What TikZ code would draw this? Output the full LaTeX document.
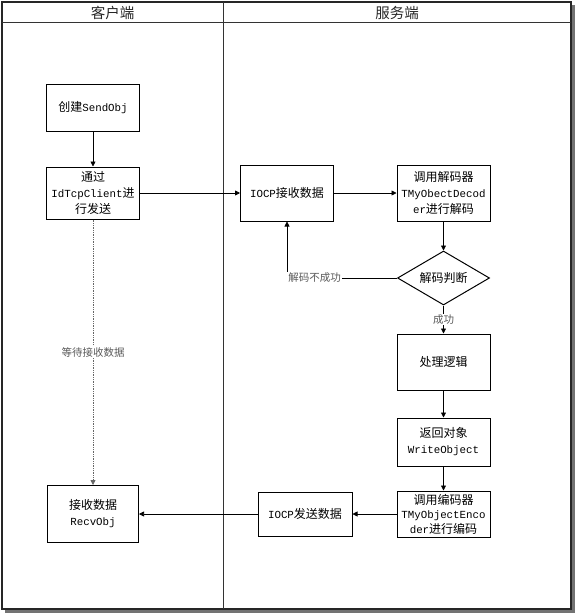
\documentclass[tikz,border=0pt]{standalone}
\usepackage{fontspec}
\setmainfont{Noto Sans CJK SC}
\setmonofont[Scale=0.9]{Liberation Mono}
\usetikzlibrary{arrows.meta,shapes.geometric}
\tikzset{
  procbox/.style={draw=black, line width=1pt, minimum width=93pt, inner sep=1pt, align=center, font=\fontsize{12}{16}\selectfont},
  judgebox/.style={draw=black, line width=1pt, diamond, aspect=1.7, minimum width=92pt, minimum height=54pt, inner sep=0pt, font=\fontsize{12}{16}\selectfont},
  flowarrow/.style={-{Triangle[length=5pt,width=5pt]}, line width=0.75pt},
  flowlabel/.style={fill=white, inner sep=1pt, text=black!65, font=\fontsize{10.5}{12}\selectfont},
  lanehead/.style={font=\fontsize{14.5}{15}\selectfont, text=black!85},
}

\begin{document}
\begin{tikzpicture}[x=1pt,y=-1pt]
		%%%%% FRAME %%%%%
		\useasboundingbox (0,0) rectangle (576,615);
		\fill[black!55] (5,609) rectangle (575,613);
		\fill[black!55] (571,5) rectangle (575,613);
		\draw[line width=1.2pt, black!85] (2,2) rectangle (571,609);
		\draw[line width=1pt, black!80] (2,23) -- (571,23);
		\draw[line width=1pt, black!80] (223,2) -- (223,609);
		
		\node[lanehead] (client) at (112.5,12.5) {客户端};
		\node[lanehead] (server) at (397,12.5) {服务端};
		
		%%%%% CLIENT %%%%%
		\node[procbox, minimum height=47pt] (create) at (93,108) {创建\texttt{SendObj}};
		\node[procbox, minimum height=52pt] (send) at (93,193) {通过\\\texttt{IdTcpClient}进\\行发送};
		\node[procbox, minimum width=91pt, minimum height=57pt] (recv) at (93,514) {接收数据\\\texttt{RecvObj}};
		
		%%%%% SERVER %%%%%
		\node[procbox, minimum height=56pt] (iocprecv) at (287,193) {\texttt{IOCP}接收数据};
		\node[procbox, minimum height=56pt] (decode) at (443.5,193) {调用解码器\\\texttt{TMyObectDecod}\\\texttt{er}进行解码};
		\node[judgebox] (judge) at (443.5,278) {解码判断};
		\node[procbox, minimum height=56pt] (logic) at (443.5,362) {处理逻辑};
		\node[procbox, minimum height=48pt] (retobj) at (443.5,442) {返回对象\\\texttt{WriteObject}};
		\node[procbox, minimum height=46pt, inner sep=0pt, font=\fontsize{12}{14.5}\selectfont] (encode) at (443.5,514) {调用编码器\\\texttt{TMyObjectEnco}\\\texttt{der}进行编码};
		\node[procbox, minimum width=94pt, minimum height=44pt] (iocpsend) at (305,514) {\texttt{IOCP}发送数据};
		
		%%%%% ARROWS %%%%%
		\draw[flowarrow] (create) -- (send);
		\draw[flowarrow] (send) -- (iocprecv);
		\draw[flowarrow] (iocprecv) -- (decode);
		\draw[flowarrow] (decode) -- (judge);
		\draw[flowarrow] (judge.west) -| node[flowlabel, pos=0.5, anchor=west] {解码不成功} (iocprecv.south);
		\draw[flowarrow] (judge) -- node[flowlabel] {成功} (logic);
		\draw[flowarrow] (logic) -- (retobj);
		\draw[flowarrow] (retobj) -- (encode);
		\draw[flowarrow] (encode) -- (iocpsend);
		\draw[flowarrow] (iocpsend) -- (recv);
		\draw[flowarrow, densely dotted, black!60] (send) -- node[flowlabel] {等待接收数据} (recv);
	\end{tikzpicture}
\end{document}
